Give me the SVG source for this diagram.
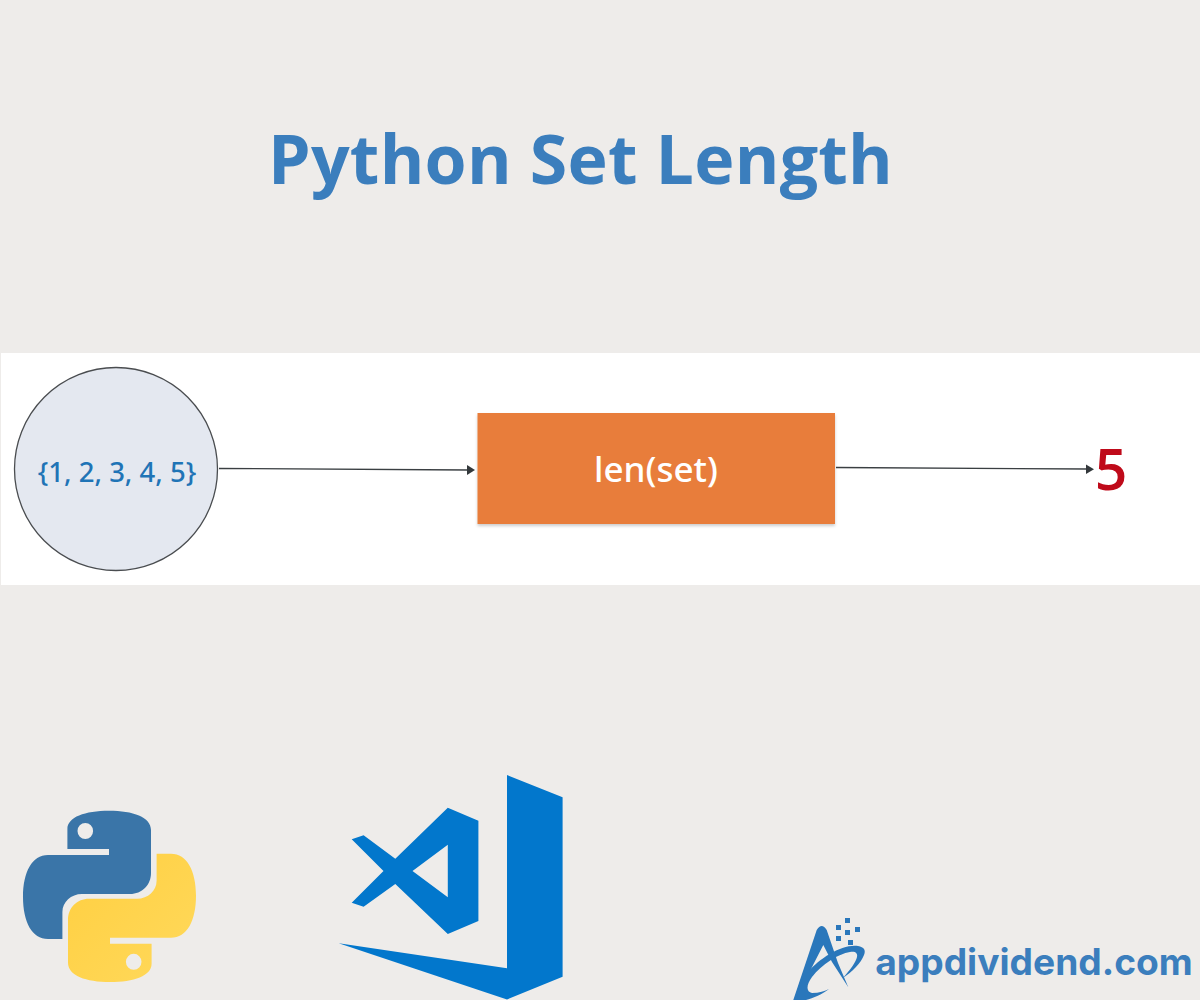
<svg xmlns="http://www.w3.org/2000/svg" width="1200" height="1000" viewBox="0 0 1200 1000">
<style>
text{font-family:"Open Sans","Noto Sans","Liberation Sans",sans-serif;text-anchor:middle}
.mid{font-family:"Noto Sans","Open Sans",sans-serif;font-weight:500}
.conn{stroke:#3a3f42;stroke-width:1.3;fill:none}
.head{fill:#33383b}
</style>
<defs>
<linearGradient id="yel" x1="0" y1="0" x2="1" y2="1"><stop offset="0" stop-color="#ffd95c"/><stop offset="1" stop-color="#ffcf40"/></linearGradient>
<filter id="sh" x="-5%" y="-5%" width="110%" height="115%"><feDropShadow dx="0" dy="2" stdDeviation="1.500" flood-color="#000" flood-opacity=".2"/></filter>
</defs>
<rect id="background" width="1200" height="1000" fill="#eeecea"/>
<rect id="band" x="1" y="353" width="1199" height="232" fill="#fff"/>
<text id="title" x="580.500" y="184" font-size="68" font-weight="700" fill="#3b7ebd" style="letter-spacing:.25px">Python Set Length</text>
<g id="connectors">
<path class="conn" d="M219 468.500L468 470"/><path class="head" d="M467 465L475 470L467 475Z"/>
<path class="conn" d="M836 467.500L1087 469"/><path class="head" d="M1086 464.500L1094 469.200L1086 474Z"/>
</g>
<g id="node-set">
<circle cx="116" cy="469" r="101.500" fill="#e4e8f0" stroke="#4a4d50" stroke-width="1.300"/>
<text class="mid" x="117" y="482" font-size="27.500" fill="#1f74b6">{1, 2, 3, 4, 5}</text>
</g>
<g id="node-len">
<rect x="477.500" y="413" width="357.500" height="111" fill="#e87d3a" filter="url(#sh)"/>
<text class="mid" x="656" y="482" font-size="35" fill="#fff">len(set)</text>
</g>
<g id="node-result"><text x="1111" y="490" font-size="57" font-weight="600" fill="#bf0a1a">5</text></g>
<g id="python-logo">
<path fill="#3a75a8" fill-rule="evenodd" d="M67.400 849V829C67.400 817 85 810.700 109 810.700C133 810.700 151 817 151 830V873C151 885 142 894 130 894H82C71 894 62.400 902 62.400 912V939H48C32 939 23 922 23 897C23 872 32 855 48 855H109V849ZM85.300 823A7.800 8 0 1 0 85.300 839A7.800 8 0 1 0 85.300 823Z"/>
<path fill="url(#yel)" fill-rule="evenodd" transform="rotate(180 109.500 896.400)" d="M67.400 849V829C67.400 817 85 810.700 109 810.700C133 810.700 151 817 151 830V873C151 885 142 894 130 894H82C71 894 62.400 902 62.400 912V939H48C32 939 23 922 23 897C23 872 32 855 48 855H109V849ZM85.300 823A7.800 8 0 1 0 85.300 839A7.800 8 0 1 0 85.300 823Z"/>
</g>
<g id="vscode-logo" fill="#0277cc">
<path d="M507 775L562.600 797.300V976.700L507 999.500L338.700 943.300L507 968.300Z"/>
<path fill-rule="evenodd" d="M447.800 807.700L478.400 820.700V921L447.800 934L395.300 884L363.600 906.700L351.700 902.700L383.500 871L351.700 839.300L363.600 835.300L395.300 858.700ZM447.800 844.700L412.500 871L447.800 897.300Z"/>
</g>
<g id="appdividend-logo">
<g fill="#2a77bb">
<path d="M793.300 1000L816.700 930Q821.700 922 826.700 930L838 963L848.300 987.300L832 962L823.300 945L811 969L806 985L800 1000Z"/>
<path d="M808 972C820 958 842 944 858 946C864 947 866 950 864 955C861 963 852 972 843 978C850 970 856 962 857 957C858 953 855 951 850 952C838 954 822 964 812 977C806 985 806 992 812 993C819 993 825 991 829 989C823 994 813 998 806 1000H798C796 992 800 982 808 972Z"/>
<rect x="845" y="918" width="5" height="5"/><rect x="836" y="925" width="5" height="5"/><rect x="845" y="930" width="5" height="5"/><rect x="855" y="927" width="5" height="5"/><rect x="836" y="936" width="5" height="5"/><rect x="848" y="940" width="5" height="5"/>
</g>
<text x="1034" y="975" font-size="37.200" font-weight="700" fill="#3b7ebd" style="font-family:Inter,'DejaVu Sans',sans-serif">appdividend.com</text>
</g>
</svg>
